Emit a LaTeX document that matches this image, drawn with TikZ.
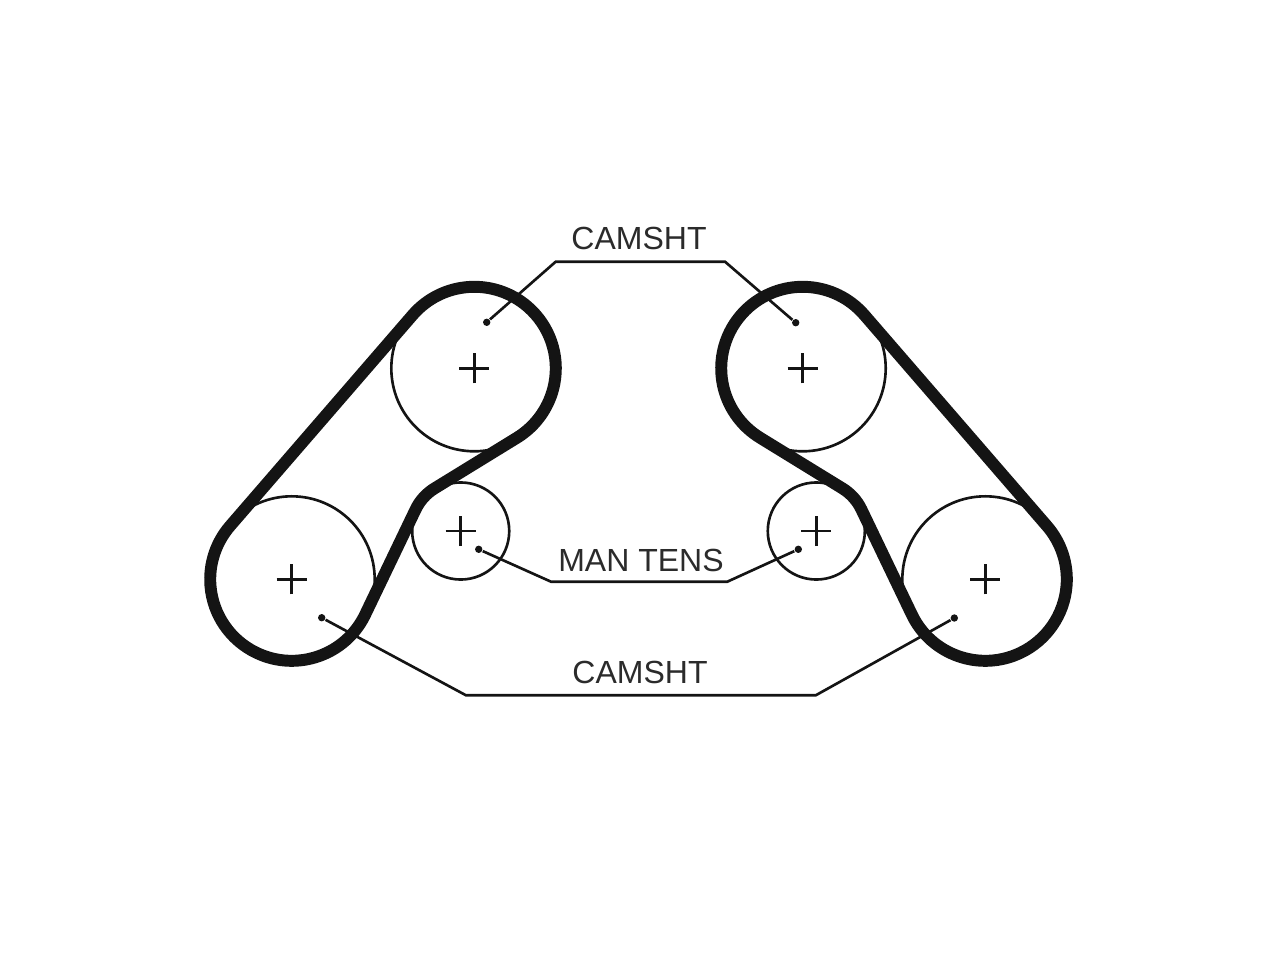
\documentclass[tikz,border=0pt]{standalone}
\usepackage{fontspec}
\setmainfont{Liberation Sans}
\definecolor{inktext}{HTML}{2B2B2B}
\definecolor{inkline}{HTML}{141414}
\tikzset{
pulley/.style={circle, draw=inkline, line width=0.75pt, inner sep=0pt, outer sep=0pt, minimum size=#1},
belt/.style={draw=inkline, line width=3.4pt, line join=round},
tip/.style={circle, fill=inkline, inner sep=0pt, minimum size=2.1pt},
leader/.style={draw=inkline, line width=0.75pt},
tag/.style={text=inktext, font=\fontsize{9.1}{11}\selectfont, inner sep=0pt},
plusmark/.style={draw=inkline, line width=0.75pt}
}
\begin{document}
\begin{tikzpicture}[x=.01cm, y=.01cm]
\useasboundingbox (0,0) rectangle (1280,960);
\node[pulley=47.2pt] (camL) at (474.3,591.7){};
\node[pulley=47.2pt] (camR) at (802.7,591.7){};
\node[pulley=47.2pt] (bigL) at (291.7,380.7){};
\node[pulley=47.2pt] (bigR) at (985.3,380.7){};
\node[pulley=27.6pt] (tensL) at (460.7,429){};
\node[pulley=27.6pt] (tensR) at (816.3,429){};
\foreach \hub in {camL,camR,bigL,bigR,tensL,tensR}{
\draw[plusmark] (\hub.center) +(-15,0) -- +(15,0) (\hub.center) +(0,-15) -- +(0,15);
}
\draw[belt] ([shift={(139.1:81.5)}]bigL.center) -- ([shift={(139.1:81.5)}]camL.center) arc[start angle=139.1, end angle=-58.4, radius=81.5] -- ([shift={(121.6:50)}]tensL.center) arc[start angle=121.6, end angle=154.5, radius=50] -- ([shift={(-25.5:81.5)}]bigL.center) arc[start angle=-25.5, end angle=-220.9, radius=81.5] -- cycle;
\draw[belt] ([shift={(40.9:81.5)}]bigR.center) -- ([shift={(40.9:81.5)}]camR.center) arc[start angle=40.9, end angle=238.4, radius=81.5] -- ([shift={(58.4:50)}]tensR.center) arc[start angle=58.4, end angle=25.5, radius=50] -- ([shift={(205.5:81.5)}]bigR.center) arc[start angle=205.5, end angle=400.9, radius=81.5] -- cycle;
\node[tip] (tipCamL) at (486.7,637.7){};
\node[tip] (tipCamR) at (795.7,637.3){};
\node[tip] (tipTensL) at (478.7,410.7){};
\node[tip] (tipTensR) at (798.3,410.7){};
\node[tip] (tipBigL) at (321.7,342.3){};
\node[tip] (tipBigR) at (954.3,342){};
\coordinate (topL) at (555.7,698.3);
\coordinate (topR) at (725,698.3);
\coordinate (midL) at (551,378.3);
\coordinate (midR) at (727.3,378.3);
\coordinate (lowL) at (466,264.7);
\coordinate (lowR) at (815.7,264.7);
\draw[leader] (tipCamL) -- (topL) -- (topR) -- (tipCamR);
\draw[leader] (tipTensL) -- (midL) -- (midR) -- (tipTensR);
\draw[leader] (tipBigL) -- (lowL) -- (lowR) -- (tipBigR);
\node[tag] (labelTop) at (639,721.3){CAMSHT};
\node[tag] (labelMid) at (641,400){MAN TENS};
\node[tag] (labelLow) at (640,287.3){CAMSHT};
\end{tikzpicture}
\end{document}
